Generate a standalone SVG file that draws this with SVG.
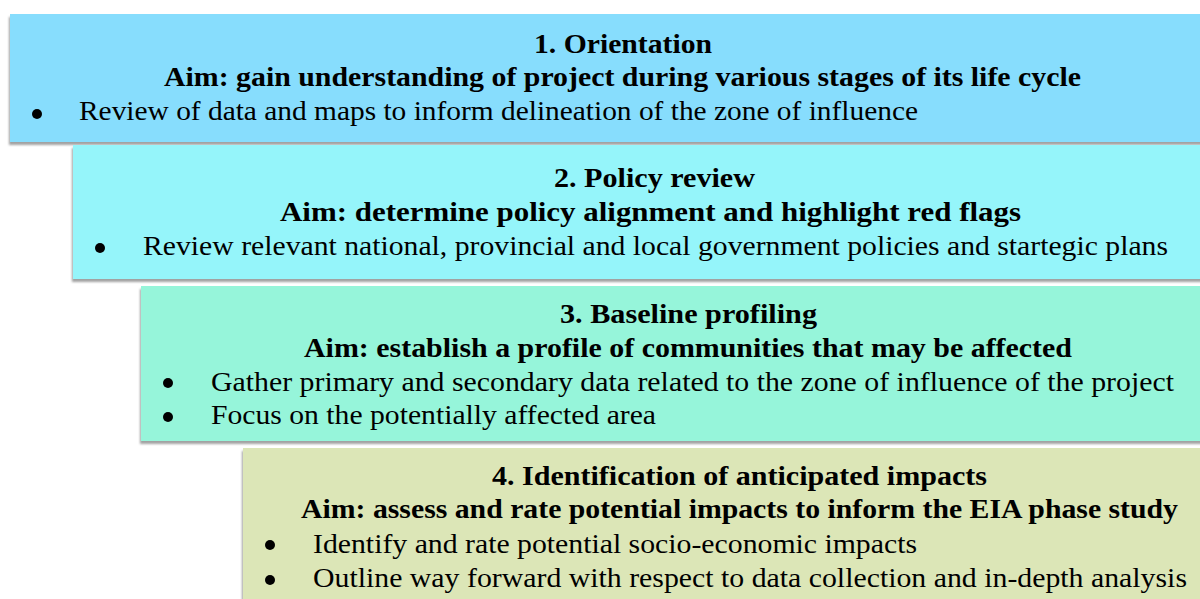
<svg xmlns="http://www.w3.org/2000/svg" width="1200" height="599" viewBox="0 0 1200 599">
<defs>
<filter id="sh" x="-5%" y="-10%" width="110%" height="130%">
<feDropShadow dx="-1" dy="3" stdDeviation="1.3" flood-color="#6f6f6f" flood-opacity="0.65"/>
</filter>
</defs>
<style>
text{font-family:"Liberation Serif","DejaVu Serif",serif;font-size:27px;fill:#000;}
.b{font-weight:bold;}
.bul{fill:#000;}
</style>
<rect width="1200" height="599" fill="#ffffff"/>
<g id="node1">
<rect x="10" y="14" width="1200" height="128" fill="#87DDFD" filter="url(#sh)"/>
<text class="b" x="534" y="53" textLength="178" lengthAdjust="spacingAndGlyphs">1. Orientation</text>
<text class="b" x="164" y="86" textLength="917" lengthAdjust="spacingAndGlyphs">Aim: gain understanding of project during various stages of its life cycle</text>
<circle class="bul" cx="37" cy="114" r="5"/>
<text x="79" y="120" textLength="839" lengthAdjust="spacingAndGlyphs">Review of data and maps to inform delineation of the zone of influence</text>
</g>
<g id="node2">
<rect x="73" y="145" width="1140" height="134" fill="#95F5FA" filter="url(#sh)"/>
<text class="b" x="554" y="187" textLength="201" lengthAdjust="spacingAndGlyphs">2. Policy review</text>
<text class="b" x="280" y="221" textLength="741" lengthAdjust="spacingAndGlyphs">Aim: determine policy alignment and highlight red flags</text>
<circle class="bul" cx="100" cy="248" r="5"/>
<text x="143" y="255" textLength="1025" lengthAdjust="spacingAndGlyphs">Review relevant national, provincial and local government policies and startegic plans</text>
</g>
<g id="node3">
<rect x="141" y="286" width="1070" height="155" fill="#96F5DA" filter="url(#sh)"/>
<text class="b" x="560" y="323" textLength="257" lengthAdjust="spacingAndGlyphs">3. Baseline profiling</text>
<text class="b" x="304" y="357" textLength="768" lengthAdjust="spacingAndGlyphs">Aim: establish a profile of communities that may be affected</text>
<circle class="bul" cx="168" cy="383" r="5"/>
<text x="211" y="391" textLength="963" lengthAdjust="spacingAndGlyphs">Gather primary and secondary data related to the zone of influence of the project</text>
<circle class="bul" cx="168" cy="417" r="5"/>
<text x="211" y="424" textLength="445" lengthAdjust="spacingAndGlyphs">Focus on the potentially affected area</text>
</g>
<g id="node4">
<rect x="243" y="448" width="970" height="160" fill="#DCE6B7" filter="url(#sh)"/>
<text class="b" x="492" y="485" textLength="495" lengthAdjust="spacingAndGlyphs">4. Identification of anticipated impacts</text>
<text class="b" x="301" y="518" textLength="877" lengthAdjust="spacingAndGlyphs">Aim: assess and rate potential impacts to inform the EIA phase study</text>
<circle class="bul" cx="270" cy="545" r="5"/>
<text x="313" y="553" textLength="604" lengthAdjust="spacingAndGlyphs">Identify and rate potential socio-economic impacts</text>
<circle class="bul" cx="270" cy="580" r="5"/>
<text x="313" y="587" textLength="874" lengthAdjust="spacingAndGlyphs">Outline way forward with respect to data collection and in-depth analysis</text>
</g>
<g id="connectors"></g>
</svg>
